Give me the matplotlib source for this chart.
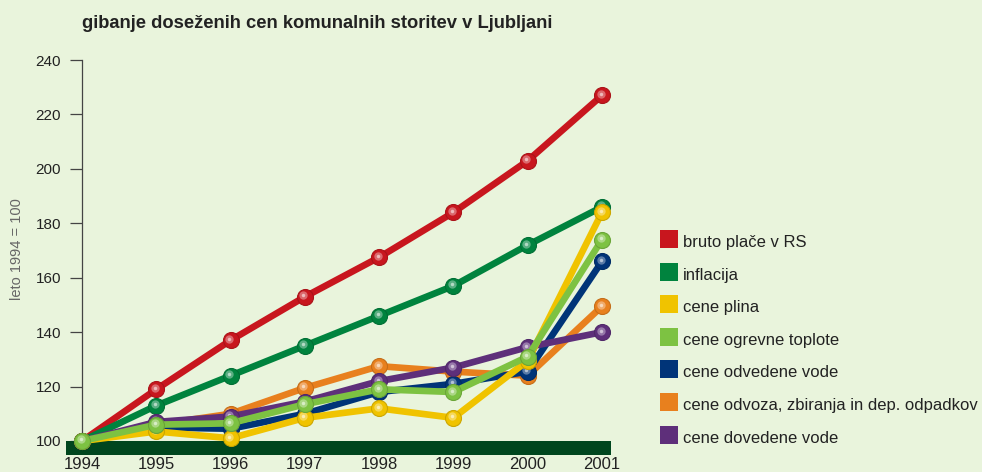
import matplotlib.pyplot as plt
import matplotlib.transforms as mtransforms
from matplotlib.patches import Rectangle
from matplotlib.colors import to_rgb
import numpy as np

plt.rcParams['font.family'] = ['Liberation Sans', 'DejaVu Sans']

# podatki (leto 1994 = 100)
leta = [1994, 1995, 1996, 1997, 1998, 1999, 2000, 2001]
place = [100, 119, 137, 153, 167.5, 184, 203, 227]
inflacija = [100, 113, 124, 135, 146, 157, 172, 186]
plin = [100, 103.5, 101, 108.5, 112, 108.5, 129.5, 184]
toplota = [100, 106, 106.5, 113.5, 119, 118, 131, 174]
odvedena = [100, 105, 104.5, 110, 118, 121, 125.5, 166]
odpadki = [100, 106, 110, 119.5, 127.5, 125.5, 124, 149.5]
dovedena = [100, 107, 109, 114.5, 122, 127, 134.5, 140]

imena = ['bruto plače v RS', 'inflacija', 'cene plina', 'cene ogrevne toplote',
         'cene odvedene vode', 'cene odvoza, zbiranja in dep. odpadkov',
         'cene dovedene vode']
barve = ['#C8161E', '#00833E', '#F0C300', '#7DC242', '#003478', '#E8801E', '#5E2F7A']
serije = [place, inflacija, plin, toplota, odvedena, odpadki, dovedena]
# vrstni red risanja (zadnji je na vrhu)
vrstni_red = [0, 1, 5, 4, 6, 2, 3]

ozadje = '#E9F4DC'
fig = plt.figure(figsize=(9.82, 4.72), dpi=100, facecolor=ozadje)
ax = fig.add_axes([82 / 982, 17 / 472, (611 - 82) / 982, (455 - 60) / 472])
ax.set_facecolor(ozadje)

px_na_leto = (602 - 82) / 7
ax.set_xlim(1994, 2001 + 9 / px_na_leto)
px_na_enoto = (441 - 60) / 140
ax.set_ylim(100 - 14 / px_na_enoto, 240)


def svetlejsa(c, f):
    r = np.array(to_rgb(c))
    return tuple(r + (1 - r) * f)


def temnejsa(c, f):
    r = np.array(to_rgb(c))
    return tuple(r * (1 - f))


hl = mtransforms.offset_copy(ax.transData, fig=fig, x=-1.5, y=1.5, units='dots')
for z, i in enumerate(vrstni_red):
    c = barve[i]
    ax.plot(leta, serije[i], color=c, lw=4.8, solid_capstyle='round',
            zorder=3 + z, clip_on=False)
    ax.plot(leta, serije[i], 'o', ms=11.5, color=c, mec=temnejsa(c, 0.15), mew=0.8,
            zorder=3.2 + z, clip_on=False)
    ax.plot(leta, serije[i], 'o', ms=6, color=svetlejsa(c, 0.35), mec='none',
            zorder=3.3 + z, clip_on=False, transform=hl)
    ax.plot(leta, serije[i], 'o', ms=2.5, color=svetlejsa(c, 0.7), mec='none',
            zorder=3.4 + z, clip_on=False, transform=hl)

# temno zelen pas na dnu
ax.add_patch(Rectangle((1994 - 16 / px_na_leto, 100 - 14 / px_na_enoto),
                       (611 - 66) / px_na_leto, 14 / px_na_enoto,
                       facecolor='#00461E', edgecolor='none', zorder=2, clip_on=False))

for s in ['top', 'right', 'bottom']:
    ax.spines[s].set_visible(False)
ax.spines['left'].set_bounds(100, 240)
ax.spines['left'].set_color('#444444')
ax.spines['left'].set_linewidth(0.9)

ax.set_yticks([100, 120, 140, 160, 180, 200, 220, 240])
ax.tick_params(axis='y', length=9, width=0.9, color='#444444', labelsize=11,
               labelcolor='#222222', pad=6)
ax.set_xticks(leta)
ax.tick_params(axis='x', length=0, labelsize=12, labelcolor='#222222', pad=1.5)

fig.text(17 / 982, 1 - 249 / 472, 'leto 1994 = 100', rotation=90, ha='center',
         va='center', fontsize=10.5, color='#666666')

fig.text(82 / 982, 1 - 23 / 472, 'gibanje doseženih cen komunalnih storitev v Ljubljani',
         ha='left', va='center', fontsize=13.2, fontweight='bold', color='#222222')

# legenda
for k, (ime, c) in enumerate(zip(imena, barve)):
    y = 248 + k * 32.6
    fig.patches.append(Rectangle((660 / 982, 1 - y / 472), 18 / 982, 18 / 472,
                                 transform=fig.transFigure, facecolor=c,
                                 edgecolor='none'))
    fig.text(683 / 982, 1 - (y - 1) / 472, ime, ha='left', va='baseline',
             fontsize=12, color='#222222')

fig.savefig('out.png', dpi=100, facecolor=ozadje)
